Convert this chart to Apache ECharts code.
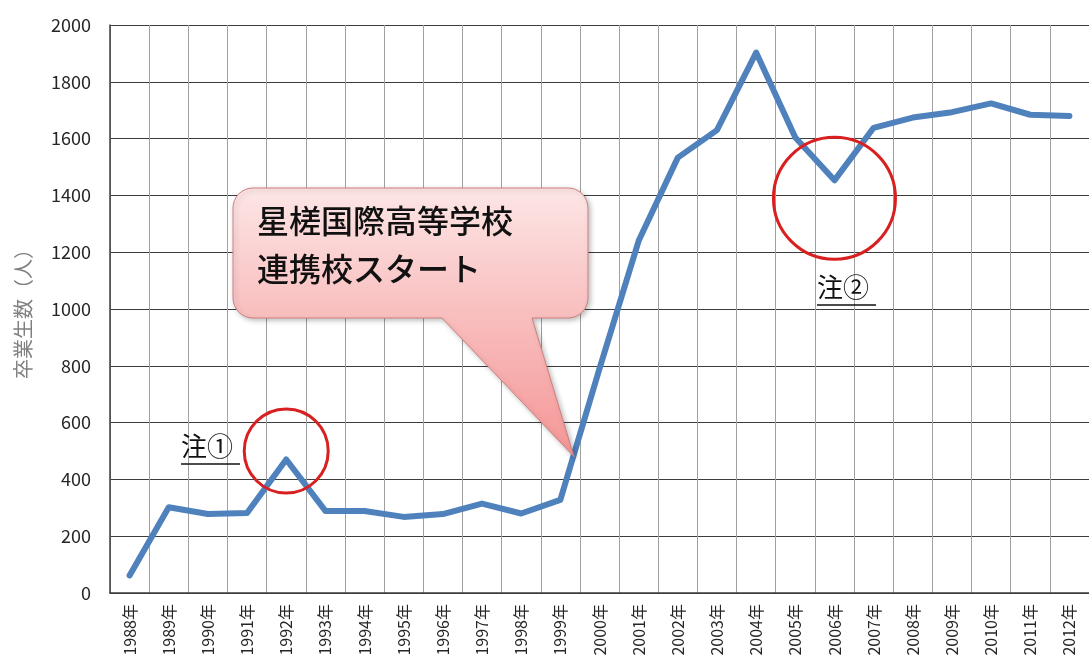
<!DOCTYPE html>
<html>
<head>
<meta charset="utf-8">
<style>
  html, body { margin: 0; padding: 0; background: #ffffff; }
  #chart { width: 1089px; height: 666px; }
</style>
<script src="https://cdn.jsdelivr.net/npm/echarts@6/dist/echarts.min.js"></script>
</head>
<body>
<div id="chart"></div>
<script>
// Graduates per year
const years = ['1988年','1989年','1990年','1991年','1992年','1993年','1994年','1995年','1996年','1997年','1998年','1999年','2000年','2001年','2002年','2003年','2004年','2005年','2006年','2007年','2008年','2009年','2010年','2011年','2012年'];
const graduates = [62, 302, 278, 282, 470, 289, 289, 268, 278, 315, 280, 328, 790, 1240, 1533, 1630, 1903, 1604, 1453, 1638, 1674, 1693, 1724, 1684, 1680];
const yTicks = { min: 0, max: 2000, step: 200 };
const axisTitle = '卒業生数（人）';
const calloutLines = ['星槎国際高等学校', '連携校スタート'];
const notes = [
  { text: '注①', year: '1992年', value: 500 },
  { text: '注②', year: '2006年', value: 1390 }
];

const FONT = '"Noto Sans CJK JP", "Noto Sans", sans-serif';
const chart = echarts.init(document.getElementById('chart'));

chart.setOption({
  animation: false,
  backgroundColor: '#ffffff',
  grid: { left: 110, top: 25, right: -11, bottom: 73, containLabel: false },
  xAxis: {
    type: 'category',
    data: years,
    boundaryGap: true,
    axisLine: { show: true, lineStyle: { color: '#3c3c3c', width: 1.5 } },
    axisTick: { show: false },
    splitLine: { show: true, lineStyle: { color: '#a0a0a0', width: 1 } },
    axisLabel: {
      rotate: 90, interval: 0, margin: 11,
      fontFamily: FONT, fontSize: 16, color: '#262626'
    }
  },
  yAxis: {
    type: 'value',
    min: yTicks.min, max: yTicks.max, interval: yTicks.step,
    name: axisTitle,
    nameLocation: 'middle',
    nameGap: 77,
    nameTextStyle: { fontFamily: FONT, fontSize: 20, color: '#808080' },
    axisLine: { show: true, lineStyle: { color: '#3c3c3c', width: 1.5 } },
    axisTick: { show: false },
    splitLine: { show: true, lineStyle: { color: '#3c3c3c', width: 1.2 } },
    axisLabel: {
      margin: 19, fontFamily: FONT, fontSize: 18, color: '#262626',
      formatter: v => String(v)
    }
  },
  series: [{
    type: 'line',
    data: graduates,
    showSymbol: false,
    symbol: 'none',
    lineStyle: { color: '#4f81bd', width: 6, join: 'round', cap: 'round' },
    z: 3
  }]
});

// Speech-bubble outline: rounded rectangle with a pointer on its lower edge
function bubblePoints(x0, y0, x1, y1, r, baseL, baseR, tipX, tipY) {
  const pts = [];
  const arc = (cx, cy, a0, a1) => {
    const n = 8;
    for (let k = 0; k <= n; k++) {
      const a = a0 + (a1 - a0) * k / n;
      pts.push([cx + r * Math.cos(a), cy + r * Math.sin(a)]);
    }
  };
  const P = Math.PI;
  arc(x0 + r, y0 + r, P, 1.5 * P);          // top-left
  arc(x1 - r, y0 + r, 1.5 * P, 2 * P);      // top-right
  arc(x1 - r, y1 - r, 0, 0.5 * P);          // bottom-right
  pts.push([baseR, y1], [tipX, tipY], [baseL, y1]);
  arc(x0 + r, y1 - r, 0.5 * P, P);          // bottom-left
  return pts;
}

// pointer tip sits on the line between 1999 and 2000
const toPx = (cat, val) => chart.convertToPixel({ xAxisIndex: 0, yAxisIndex: 0 }, [cat, val]);
const pA = toPx('1999年', 0), pB = toPx('2000年', 0);
const tipX = pA[0] + (pB[0] - pA[0]) * 0.35;
const tipY = toPx('1999年', 480)[1];
const elements = [];

elements.push({
  type: 'polygon',
  z: 10,
  shape: { points: bubblePoints(233, 188, 588, 318, 20, 442, 532, tipX, tipY) },
  style: {
    fill: {
      type: 'linear', x: 0, y: 0, x2: 0, y2: 1,
      colorStops: [
        { offset: 0, color: '#fde6e6' },
        { offset: 0.45, color: '#f9c0c0' },
        { offset: 1, color: '#f59696' }
      ]
    },
    stroke: '#d08080',
    lineWidth: 1,
    shadowBlur: 5,
    shadowOffsetX: 2,
    shadowOffsetY: 2,
    shadowColor: 'rgba(0,0,0,0.25)'
  }
});
elements.push({
  type: 'text',
  z: 11,
  x: 257, y: 197,
  style: {
    text: calloutLines.join('\n'),
    font: '500 32px ' + FONT,
    fill: '#111111',
    lineHeight: 48
  }
});

const circleR = [42, 61];
notes.forEach((n, i) => {
  const c = toPx(n.year, n.value);
  elements.push({
    type: 'circle', z: 9,
    shape: { cx: c[0], cy: c[1], r: circleR[i] },
    style: { fill: 'none', stroke: '#d92020', lineWidth: 3 }
  });
});

// note labels with underline
const noteLabelPos = [[181, 433], [817, 274]];
notes.forEach((n, i) => {
  const p = noteLabelPos[i];
  elements.push({
    type: 'text', z: 11,
    x: p[0], y: p[1],
    style: { text: n.text, font: '26px ' + FONT, fill: '#111111' }
  });
  elements.push({
    type: 'line', z: 11,
    shape: { x1: p[0], y1: p[1] + 31, x2: p[0] + 59, y2: p[1] + 31 },
    style: { stroke: '#111111', lineWidth: 1.3 }
  });
});

chart.setOption({ graphic: { elements } });
</script>
</body>
</html>
